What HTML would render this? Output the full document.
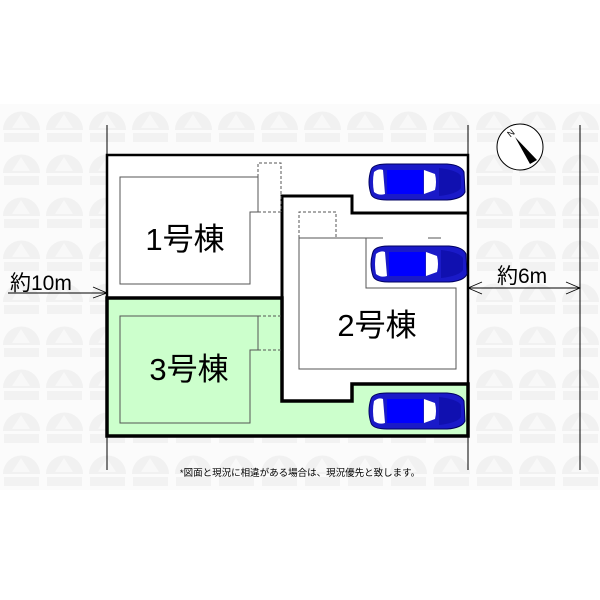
<!DOCTYPE html>
<html><head><meta charset="utf-8"><style>
html,body{margin:0;padding:0;background:#fff;}
svg{display:block;}
text{font-family:"Liberation Sans","Noto Sans CJK JP",sans-serif;}
</style></head><body>
<svg width="600" height="600" viewBox="0 0 600 600" xmlns="http://www.w3.org/2000/svg">
<defs>
<pattern id="wm" x="0" y="104" width="43" height="43" patternUnits="userSpaceOnUse">
<rect width="43" height="43" fill="#fbfbfb"/>
<path d="M3,26 A18.5,18.5 0 0 1 40,26 Z" fill="#f1f1f1"/>
<rect x="4" y="29" width="35" height="9" fill="#f2f2f2"/>
<path d="M12,24 L21,10 L30,24 Z" fill="#f8f8f8"/>
</pattern>
<g id="car">
<path d="M4,6 Q6,0 20,0 L80,0 Q94,1 97,8 L98,28 Q95,35 80,36 L20,36 Q6,36 4,30 Q0,18 4,6 Z" fill="#1a1ac8" stroke="#000060" stroke-width="1"/>
<path d="M7,8 Q12,4 16,6 L18,30 Q12,32 7,28 Q5,18 7,8 Z" fill="#fff"/>
<path d="M57,6 L68,10 Q70,18 68,26 L57,30 Z" fill="#fff"/>
<rect x="20" y="6" width="36" height="24" fill="#0000ff"/>
<path d="M72,4 Q90,6 94,12 L94,24 Q90,30 72,32 Z" fill="#1010b0"/>
</g>
</defs>
<rect x="0" y="104" width="600" height="386" fill="url(#wm)"/>
<line x1="107" y1="125" x2="107" y2="470" stroke="#000" stroke-width="1"/>
<line x1="468" y1="125" x2="468" y2="470" stroke="#000" stroke-width="1"/>
<line x1="580" y1="125" x2="580" y2="470" stroke="#000" stroke-width="1"/>
<rect x="107" y="155" width="361" height="281" fill="#fff"/>
<path d="M107,298 L282,298 L282,401 L352,401 L352,384 L468,384 L468,436 L107,436 Z" fill="#ccffcc" stroke="#000" stroke-width="3.5"/>
<path d="M107,298 L107,155 L468,155 L468,384" fill="none" stroke="#000" stroke-width="2.5"/>
<path d="M282,298 L282,196 L352,196 L352,213 L468,213" fill="none" stroke="#000" stroke-width="3"/>
<path d="M120,177 L258,177 L258,212 L250,212 L250,284 L120,284 Z" fill="none" stroke="#555" stroke-width="1"/>
<path d="M258,177 L258,163 L281,163 L281,212 M258,212 L282,212" fill="none" stroke="#555" stroke-width="1" stroke-dasharray="3,2"/>
<path d="M120,316 L258,316 L258,350 L250,350 L250,423 L120,423 Z" fill="none" stroke="#555" stroke-width="1"/>
<path d="M258,316 L282,316 M258,350 L282,350" fill="none" stroke="#555" stroke-width="1" stroke-dasharray="3,2"/>
<path d="M383,238 L299,238 L299,369 L456,369 L456,288 L366,288 L366,238 M428,238 L441,238" fill="none" stroke="#555" stroke-width="1"/>
<path d="M299,238 L299,212 L336,212 L336,238" fill="none" stroke="#555" stroke-width="1" stroke-dasharray="3,2"/>
<text x="185" y="250" font-size="31" text-anchor="middle">1号棟</text>
<text x="377" y="336" font-size="31" text-anchor="middle">2号棟</text>
<text x="189" y="380" font-size="31" text-anchor="middle">3号棟</text>
<use href="#car" x="367" y="164"/>
<use href="#car" x="369" y="246"/>
<use href="#car" x="367" y="393"/>
<text x="10" y="290" font-size="21">約10m</text>
<line x1="8" y1="293" x2="107" y2="293" stroke="#000" stroke-width="1"/>
<path d="M93,287 L107,293 L93,298" fill="none" stroke="#000" stroke-width="0.8"/>
<text x="497" y="283" font-size="21">約6m</text>
<line x1="468" y1="288" x2="580" y2="288" stroke="#000" stroke-width="1"/>
<path d="M482,282 L468,288 L482,294 M566,282 L580,288 L566,294" fill="none" stroke="#000" stroke-width="0.8"/>
<circle cx="520" cy="147" r="23" fill="#fff" stroke="#000" stroke-width="1"/>
<path d="M515,137 L537,160 L530,164 Z" fill="#000"/>
<text x="508" y="137" font-size="9" transform="rotate(-40 510 134)">N</text>
<text x="300" y="476" font-size="9.5" text-anchor="middle">*図面と現況に相違がある場合は、現況優先と致します。</text>
</svg>
</body></html>
